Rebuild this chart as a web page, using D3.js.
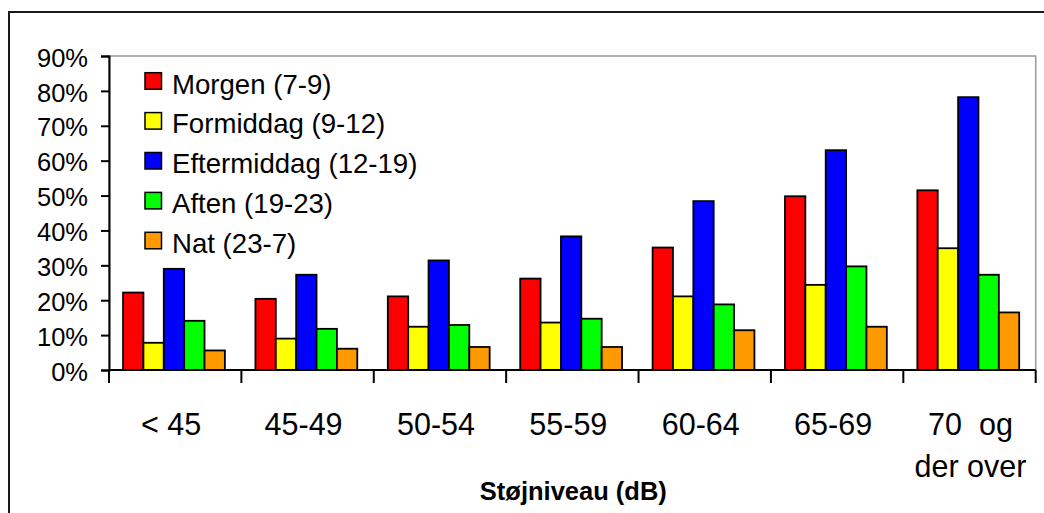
<!DOCTYPE html>
<html>
<head>
<meta charset="utf-8">
<script src="https://cdn.jsdelivr.net/npm/d3@7/dist/d3.min.js"></script>
<style>
  html, body { margin: 0; padding: 0; background: #fff; }
  svg { display: block; font-family: "Liberation Sans", Arial, sans-serif; }
</style>
</head>
<body>
<svg id="chart" width="1044" height="513"></svg>
<script>
// ---- Data ----
const categories = ["< 45", "45-49", "50-54", "55-59", "60-64", "65-69", "70  og\nder over"];
const seriesNames = ["Morgen (7-9)", "Formiddag (9-12)", "Eftermiddag (12-19)", "Aften (19-23)", "Nat (23-7)"];
const seriesColors = ["#FF0000", "#FFFF00", "#0000FF", "#00FF00", "#FF9900"];
const morgen      = [22.2, 20.4, 21.1, 26.2, 35.1, 49.8, 51.5];
const formiddag   = [7.8,  9.0,  12.4, 13.6, 21.1, 24.4, 34.9];
const eftermiddag = [29.0, 27.3, 31.4, 38.3, 48.4, 63.0, 78.2];
const aften       = [14.1, 11.8, 12.9, 14.7, 18.8, 29.7, 27.3];
const nat         = [5.6,  6.1,  6.6,  6.6,  11.4, 12.4, 16.5];
const yTicks = [0, 10, 20, 30, 40, 50, 60, 70, 80, 90];
const xTitle = "Støjniveau (dB)";

const seriesValues = [morgen, formiddag, eftermiddag, aften, nat];
const rows = [];
categories.forEach((c, ci) => {
  seriesNames.forEach((s, si) => rows.push({cat: c, series: s, value: seriesValues[si][ci], color: seriesColors[si]}));
});

// ---- Layout ----
const svg = d3.select("#chart");
const plot = {left: 109, right: 1035.7, top: 56, bottom: 370};

// outer frame (clipped by window on right/bottom)
svg.append("rect")
  .attr("x", 9).attr("y", 12).attr("width", 1100).attr("height", 600)
  .attr("fill", "none").attr("stroke", "#1a1a1a").attr("stroke-width", 2);

const x0 = d3.scaleBand().domain(categories).range([plot.left, plot.right]).padding(0);
const x1 = d3.scaleBand().domain(seriesNames).range([0, x0.bandwidth()])
  .paddingInner(0).paddingOuter(0.75).align(0.46);
const y = d3.scaleLinear().domain([0, 90]).range([plot.bottom, plot.top]);

// plot area border (gray)
svg.append("rect")
  .attr("x", plot.left).attr("y", y(90))
  .attr("width", plot.right - plot.left).attr("height", y(0) - y(90))
  .attr("fill", "none").attr("stroke", "#999").attr("stroke-width", 1.5);

// bars
svg.append("g").selectAll("rect").data(rows).join("rect")
  .attr("x", d => x0(d.cat) + x1(d.series))
  .attr("y", d => y(d.value))
  .attr("width", x1.bandwidth())
  .attr("height", d => y(0) - y(d.value))
  .attr("fill", d => d.color)
  .attr("stroke", "#000").attr("stroke-width", 1.8);

// y axis
const yAxis = svg.append("g")
  .attr("transform", `translate(${plot.left},0)`)
  .call(d3.axisLeft(y).tickValues(yTicks).tickFormat(d => d + "%").tickSize(8).tickPadding(13));
yAxis.select(".domain").attr("stroke", "#000").attr("stroke-width", 2);
yAxis.selectAll(".tick line").attr("stroke", "#000").attr("stroke-width", 2);
yAxis.selectAll(".tick text")
  .attr("font-family", "'Liberation Sans', Arial, sans-serif")
  .attr("font-size", 25.5).attr("fill", "#000").attr("dy", "0.4em");

// x axis line + boundary ticks
const xAxis = svg.append("g").attr("transform", `translate(0,${plot.bottom})`);
xAxis.append("line")
  .attr("x1", plot.left).attr("x2", plot.right).attr("y1", 0).attr("y2", 0)
  .attr("stroke", "#000").attr("stroke-width", 2);
const boundaries = categories.map(c => x0(c)).concat([x0.range()[1]]);
xAxis.selectAll("line.tick").data(boundaries).join("line")
  .attr("class", "tick")
  .attr("x1", d => d).attr("x2", d => d).attr("y1", 0).attr("y2", 13)
  .attr("stroke", "#000").attr("stroke-width", 2);

// category labels
const labels = svg.append("g").attr("font-size", 30.5).attr("fill", "#000").attr("text-anchor", "middle");
categories.forEach(c => {
  const lines = c.split("\n");
  const cx = x0(c) + x0.bandwidth() / 2 + (lines.length > 1 ? 1 : -4);
  const t = labels.append("text").attr("x", cx).attr("y", 435).style("white-space", "pre");
  lines.forEach((ln, i) => {
    t.append("tspan").attr("x", cx).attr("dy", i === 0 ? 0 : 42).text(ln);
  });
});

// x title
svg.append("text")
  .attr("x", (plot.left + plot.right) / 2 + 1).attr("y", 500)
  .attr("text-anchor", "middle").attr("font-size", 25.5).attr("font-weight", "bold")
  .attr("fill", "#000").text(xTitle);

// legend
const legend = svg.append("g").attr("transform", "translate(145,72.7)");
const leg = legend.selectAll("g").data(seriesNames).join("g")
  .attr("transform", (d, i) => `translate(0,${i * 39.9})`);
leg.append("rect")
  .attr("width", 16.5).attr("height", 16.5)
  .attr("fill", (d, i) => seriesColors[i])
  .attr("stroke", "#000").attr("stroke-width", 1.5);
leg.append("text")
  .attr("x", 27).attr("y", 20.8)
  .attr("font-size", 27.6).attr("fill", "#000")
  .text(d => d);
</script>
</body>
</html>
